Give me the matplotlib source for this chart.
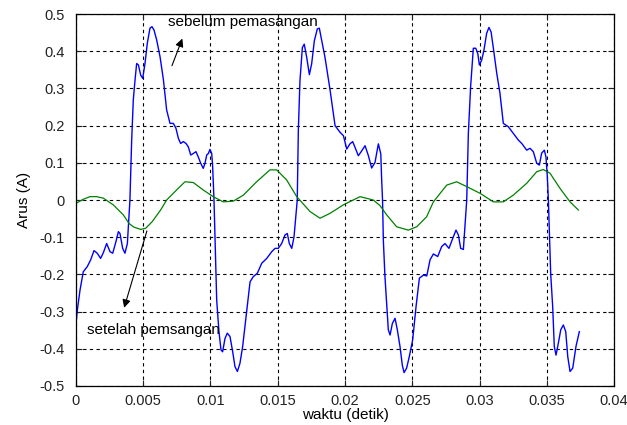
import matplotlib
matplotlib.use('Agg')
import matplotlib.pyplot as plt

plt.rcParams['font.family'] = ['Liberation Sans', 'DejaVu Sans']

# arus sebelum pemasangan (biru)
t_before = [0, .0001, .0003, .00054, .00084, .00109, .00134, .00158, .00183, .00203,
            .00228, .00253, .00273, .00297, .00315, .00327, .00347, .00364, .00382, .00392,
            .00401, .00414, .00426, .00439, .00451, .00464, .00481, .00496, .00513, .0053,
            .0055, .00565, .0058, .006, .00625, .0065, .00674, .00699, .00724, .00743,
            .00761, .00778, .00798, .00818, .00835, .00853, .00872, .00892, .00909, .00927,
            .00946, .00959, .00972, .00984, .00996, .01009, .01016, .01026, .01046, .01063,
            .01078, .0109, .01108, .01125, .01145, .01165, .01182, .012, .01219, .01239,
            .01264, .01294, .01318, .01348, .01381, .01418, .01455, .0148, .01504, .01529,
            .01554, .01571, .01586, .01604, .01621, .01636, .01645, .01653, .01665, .01683,
            .01697, .01715, .01735, .01752, .01772, .01794, .01809, .01827, .01851, .01888,
            .01926, .01963, .01988, .02013, .02037, .02057, .02074, .02099, .02124, .02149,
            .02174, .02198, .02223, .02248, .02266, .02272, .02279, .02285, .02297, .0231,
            .02322, .02335, .02352, .02372, .02389, .02409, .02426, .02439, .02458, .02478,
            .02503, .02528, .02553, .02583, .02608, .02632, .02657, .02689, .02719, .02743,
            .02773, .02801, .02825, .02843, .0286, .0288, .02892, .02905, .02917, .02934,
            .02954, .02972, .02987, .02999, .03016, .03033, .03053, .0307, .03086, .03103,
            .03128, .03152, .03177, .03214, .03251, .03289, .03314, .03351, .03375, .034,
            .03425, .03445, .03462, .03482, .03494, .03504, .03512, .03529, .03544, .03556,
            .03569, .03586, .03604, .03623, .03641, .03656, .03673, .03693, .03717, .03742]
i_before = [-0.332, -0.296, -0.242, -0.193, -0.179, -0.161, -0.136, -0.143, -0.157, -0.142,
            -0.117, -0.139, -0.143, -0.112, -0.085, -0.09, -0.13, -0.143, -0.117, -0.054,
            0.0, 0.161, 0.269, 0.323, 0.367, 0.363, 0.336, 0.327, 0.367, 0.421,
            0.462, 0.466, 0.457, 0.43, 0.385, 0.323, 0.242, 0.206, 0.206, 0.193,
            0.166, 0.152, 0.157, 0.152, 0.143, 0.121, 0.125, 0.13, 0.116, 0.099,
            0.085, 0.099, 0.121, 0.125, 0.136, 0.125, 0.09, 0.0, -0.269, -0.354,
            -0.403, -0.408, -0.372, -0.358, -0.367, -0.408, -0.448, -0.461, -0.439, -0.394,
            -0.314, -0.22, -0.206, -0.197, -0.17, -0.157, -0.139, -0.13, -0.13, -0.117,
            -0.094, -0.09, -0.117, -0.13, -0.099, -0.036, 0.0, 0.186, 0.32, 0.41,
            0.419, 0.384, 0.337, 0.366, 0.428, 0.46, 0.462, 0.428, 0.384, 0.298,
            0.2, 0.182, 0.173, 0.137, 0.151, 0.157, 0.142, 0.119, 0.132, 0.146,
            0.119, 0.086, 0.101, 0.151, 0.124, 0.06, 0.0, -0.108, -0.206, -0.278,
            -0.349, -0.363, -0.332, -0.318, -0.349, -0.394, -0.444, -0.464, -0.452, -0.421,
            -0.376, -0.287, -0.21, -0.202, -0.204, -0.161, -0.145, -0.152, -0.125, -0.117,
            -0.13, -0.103, -0.081, -0.094, -0.13, -0.133, -0.067, 0.0, 0.179, 0.305,
            0.408, 0.408, 0.394, 0.363, 0.376, 0.403, 0.448, 0.464, 0.452, 0.408,
            0.341, 0.287, 0.206, 0.197, 0.179, 0.161, 0.152, 0.134, 0.139, 0.13,
            0.099, 0.094, 0.126, 0.134, 0.116, 0.063, 0.0, -0.197, -0.287, -0.394,
            -0.417, -0.385, -0.349, -0.336, -0.354, -0.421, -0.461, -0.452, -0.394, -0.354]

# arus setelah pemasangan (hijau)
t_after = [0, .00054, .00104, .00154, .00203, .00277, .00352, .00394, .00431, .00481,
           .00518, .00567, .00629, .00674, .00748, .0081, .00872, .00946, .0102, .01095,
           .0117, .01244, .01343, .01442, .01492, .01566, .01641, .0174, .01814, .01888,
           .01988, .02112, .0221, .0226, .0231, .02384, .02471, .02533, .02607, .02657,
           .02756, .0283, .02905, .03004, .03103, .03177, .03251, .03351, .03425, .03474,
           .03524, .03599, .03673, .03735]
i_after = [-0.009, 0.002, 0.009, 0.009, 0.005, -0.013, -0.04, -0.063, -0.073, -0.079,
           -0.076, -0.058, -0.027, 0.0, 0.027, 0.049, 0.047, 0.027, 0.009, -0.005,
           -0.003, 0.013, 0.049, 0.081, 0.081, 0.054, 0.009, -0.031, -0.049, -0.036,
           -0.013, 0.009, 0.0, -0.015, -0.04, -0.072, -0.081, -0.072, -0.045, -0.005,
           0.04, 0.049, 0.036, 0.018, -0.005, -0.005, 0.013, 0.045, 0.076, 0.082,
           0.072, 0.031, -0.005, -0.027]

x_ticks = [0, 0.005, 0.01, 0.015, 0.02, 0.025, 0.03, 0.035, 0.04]
x_labels = ['0', '0.005', '0.01', '0.015', '0.02', '0.025', '0.03', '0.035', '0.04']
y_ticks = [-0.5, -0.4, -0.3, -0.2, -0.1, 0, 0.1, 0.2, 0.3, 0.4, 0.5]
y_labels = ['-0.5', '-0.4', '-0.3', '-0.2', '-0.1', '0', '0.1', '0.2', '0.3', '0.4', '0.5']

fig = plt.figure(figsize=(6.27, 4.25), dpi=100)
ax = fig.add_axes([0.1212, 0.0918, 0.8581, 0.8752])

ax.plot(t_before, i_before, color='#0000ff', lw=1.0)
ax.plot(t_after, i_after, color='#008000', lw=0.9)

ax.set_xlim(0, 0.04)
ax.set_ylim(-0.5, 0.5)
ax.set_xticks(x_ticks)
ax.set_xticklabels(x_labels)
ax.set_yticks(y_ticks)
ax.set_yticklabels(y_labels)
ax.tick_params(direction='in', top=True, right=True, labelsize=10.5, length=4,
               colors='#222222')
ax.tick_params(axis='y', pad=8)
ax.tick_params(axis='x', pad=6)
ax.grid(True, color='black', linestyle=(0, (3, 3)), lw=0.8)
for s in ax.spines.values():
    s.set_linewidth(0.9)

ax.set_xlabel('waktu (detik)', fontsize=11, labelpad=0)
ax.set_ylabel('Arus (A)', fontsize=11, labelpad=6)

arrow = dict(arrowstyle='-|>', color='black', lw=0.8, mutation_scale=12)
ax.annotate('', xy=(0.00798, 0.441), xytext=(0.00706, 0.354), arrowprops=arrow)
ax.text(0.00684, 0.478, 'sebelum pemasangan', fontsize=11, va='center', ha='left')
ax.annotate('', xy=(0.00352, -0.297), xytext=(0.00533, -0.076), arrowprops=arrow)
ax.text(0.00082, -0.35, 'setelah pemsangan', fontsize=11, va='center', ha='left')

fig.savefig('out.png', dpi=100)
